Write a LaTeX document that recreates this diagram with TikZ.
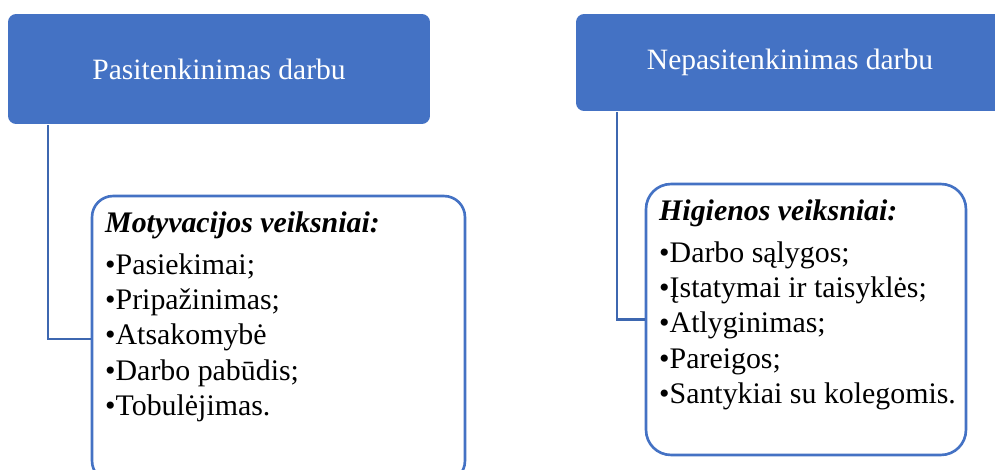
\documentclass[tikz,border=0pt]{standalone}
\usepackage{fontspec}
\setmainfont{Liberation Serif}
\usepackage{tikz}
\usetikzlibrary{shapes,positioning}
\definecolor{hdrblue}{HTML}{4472C4}
\newcommand{\itemsize}[0]{\fontsize{17}{20.1}\selectfont}

\begin{document}
\begin{tikzpicture}[x=0.02cm,y=-0.02cm,line width=1.4pt]
  \tikzstyle{header}=[rectangle,rounded corners=0.16cm,fill=hdrblue,text=white,
    font=\fontsize{16.8}{19}\selectfont]
  \tikzstyle{factors}=[rectangle,draw=hdrblue,line width=1.5pt]
  \tikzstyle{list}=[anchor=north west,inner sep=0pt,align=left,font=\itemsize]
  \tikzstyle{conn}=[draw=hdrblue!90!black,line width=1.4pt]

  \useasboundingbox (0,0) rectangle (995,470);

  \node[header,minimum width=8.44cm,minimum height=2.2cm]  (hdrL) at (219,69)   {Pasitenkinimas darbu};
  \node[header,minimum width=8.56cm,minimum height=1.94cm] (hdrR) at (790,62.5) {Nepasitenkinimas darbu};

  \node[factors,rounded corners=0.42cm,minimum width=7.46cm,minimum height=5.72cm] (boxL) at (278.5,339) {};
  \node[factors,rounded corners=0.5cm,minimum width=6.4cm,minimum height=5.42cm]   (boxR) at (806,319.5) {};

  \node[list] (motL) at (104,211) {\textbf{\textit{Motyvacijos veiksniai:}}\\[3.4pt]
    •Pasiekimai;\\
    •Pripažinimas;\\
    •Atsakomybė\\
    •Darbo pabūdis;\\
    •Tobulėjimas.};
  \node[list] (higR) at (658,199) {\textbf{\textit{Higienos veiksniai:}}\\[3.4pt]
    •Darbo sąlygos;\\
    •Įstatymai ir taisyklės;\\
    •Atlyginimas;\\
    •Pareigos;\\
    •Santykiai su kolegomis.};

  \draw[conn] ([xshift=0.82cm]hdrL.south west) |- (boxL.west);
  \draw[conn] ([xshift=0.84cm]hdrR.south west) |- (boxR.west);
\end{tikzpicture}
\end{document}
